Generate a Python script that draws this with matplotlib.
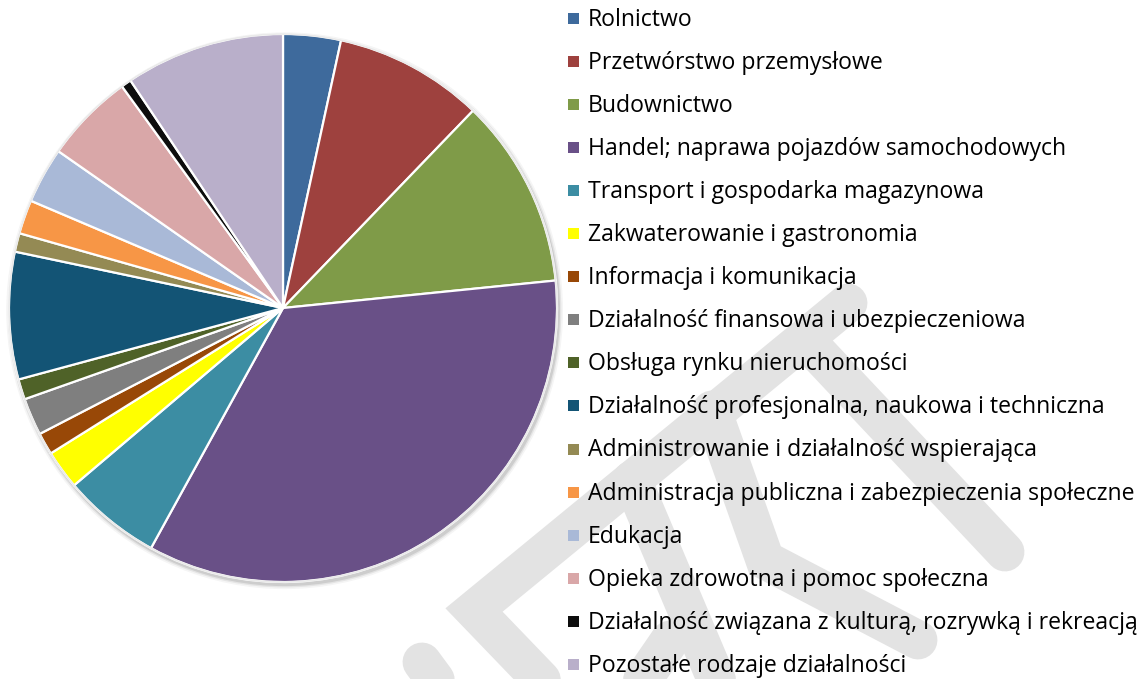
import matplotlib
matplotlib.use("Agg")
import matplotlib.pyplot as plt
from matplotlib.patches import Circle, Rectangle

# ---- data ----
categories = [
    "Rolnictwo",
    "Przetwórstwo przemysłowe",
    "Budownictwo",
    "Handel; naprawa pojazdów samochodowych",
    "Transport i gospodarka magazynowa",
    "Zakwaterowanie i gastronomia",
    "Informacja i komunikacja",
    "Działalność finansowa i ubezpieczeniowa",
    "Obsługa rynku nieruchomości",
    "Działalność profesjonalna, naukowa i techniczna",
    "Administrowanie i działalność wspierająca",
    "Administracja publiczna i zabezpieczenia społeczne",
    "Edukacja",
    "Opieka zdrowotna i pomoc społeczna",
    "Działalność związana z kulturą, rozrywką i rekreacją",
    "Pozostałe rodzaje działalności",
]
shares = [3.4, 8.8, 11.2, 34.6, 5.8, 2.3, 1.3, 2.2, 1.2, 7.5, 1.1, 2.0, 3.3, 5.3, 0.6, 9.4]
colors = [
    "#3E6A9C", "#9E413E", "#7F9B48", "#695087", "#3C8DA3", "#FFFF00",
    "#984807", "#7F7F7F", "#4F6228", "#135475", "#948A54", "#F79646",
    "#A9B9D7", "#D9A7A8", "#0D0D0D", "#B9AFCA",
]

W, H = 1145, 679
DPI = 100
fig = plt.figure(figsize=(W / DPI, H / DPI), dpi=DPI)
fig.patch.set_facecolor("white")

def fx(px):
    return px / W

def fy(py):
    return 1 - py / H

# ---- background watermark (decorative light-gray strokes) ----
wm = fig.add_axes([0, 0, 1, 1], zorder=0)
wm.set_xlim(0, W)
wm.set_ylim(H, 0)
wm.axis("off")
wm_paths = [
    [(848, 303), (474, 610), (575, 715)],
    [(815, 350), (1005, 552)],
    [(712, 410), (765, 560), (918, 640)],
    [(632, 480), (725, 700)],
    [(670, 640), (615, 720)],
    [(422, 662), (450, 700)],
]
for pth in wm_paths:
    xs, ys = zip(*pth)
    wm.plot(xs, ys, color="#E3E3E3", lw=28, solid_capstyle="round",
            solid_joinstyle="miter")

# ---- pie ----
cx, cy, r = 283, 308, 274
ax = fig.add_axes([fx(cx - r), fy(cy + r), fx(2 * r), (2 * r) / H], zorder=2)
ax.set_aspect("equal")
ax.axis("off")

# soft shadow (bottom-right)
for rr, a in [(1.016, 0.06), (1.010, 0.10), (1.005, 0.16)]:
    ax.add_patch(Circle((0.006, -0.010), rr, color="#555555", alpha=a, lw=0,
                        zorder=0, clip_on=False))

ax.pie(shares, colors=colors, startangle=90, counterclock=False, radius=1.0,
       wedgeprops=dict(edgecolor="white", linewidth=1.6, zorder=1))
for w_ in ax.patches:
    w_.set_clip_on(False)
ax.add_patch(Circle((0, 0), 1.0, fill=False, edgecolor="#EAEAEA", lw=1.2,
                    zorder=3, clip_on=False))
ax.set_xlim(-1.0, 1.0)
ax.set_ylim(-1.0, 1.0)

# ---- legend (manual) ----
font = "Open Sans"
fs = 15.0
renderer = fig.canvas.get_renderer()
t = fig.text(0, 0, categories[11], fontsize=fs, family=font)
w = t.get_window_extent(renderer=renderer).width
t.remove()
fs = fs * 549.0 / w

y0 = 26.0
pitch = 43.05
for i, (lab, col) in enumerate(zip(categories, colors)):
    base = y0 + i * pitch
    sq = 11
    yc = base - 7.5
    fig.patches.append(Rectangle((fx(568), fy(yc + sq / 2)), sq / W, sq / H,
                                 transform=fig.transFigure, facecolor=col,
                                 edgecolor="none", zorder=3))
    fig.text(fx(588), fy(base), lab, fontsize=fs, family=font,
             color="#000000", va="baseline", ha="left", zorder=4)

fig.savefig("out.png", dpi=DPI)
